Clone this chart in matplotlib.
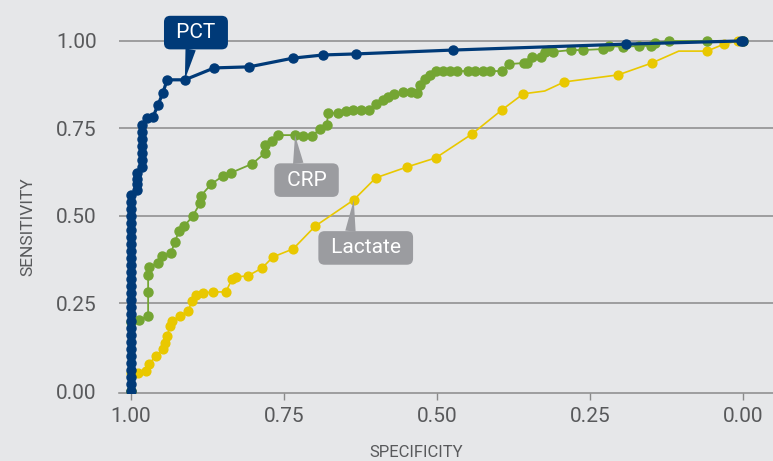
import matplotlib
matplotlib.use("Agg")
import matplotlib.pyplot as plt

# ROC data (specificity, sensitivity)
pct_spec = [1.000, 1.000, 1.000, 1.000, 1.000, 1.000, 1.000, 1.000, 1.000, 1.000,
            1.000, 1.000, 1.000, 1.000, 1.000, 1.000, 1.000, 1.000, 1.000, 1.000,
            1.000, 1.000, 1.000, 1.000, 1.000, 1.000, 1.000, 1.000, 1.000,
            0.990, 0.990, 0.990, 0.990,
            0.982, 0.982, 0.982, 0.982, 0.982, 0.982, 0.982,
            0.974, 0.964, 0.956, 0.948, 0.941, 0.912, 0.864, 0.807, 0.735,
            0.686, 0.632, 0.474, 0.191, 0.004, 0.000]
pct_sens = [0.000, 0.020, 0.040, 0.060, 0.080, 0.100, 0.120, 0.140, 0.160, 0.180,
            0.200, 0.220, 0.240, 0.260, 0.280, 0.300, 0.320, 0.340, 0.360, 0.380,
            0.400, 0.420, 0.440, 0.460, 0.480, 0.500, 0.520, 0.540, 0.560,
            0.574, 0.590, 0.606, 0.623,
            0.640, 0.660, 0.680, 0.700, 0.720, 0.740, 0.760,
            0.780, 0.783, 0.817, 0.851, 0.889, 0.889, 0.923, 0.926, 0.951,
            0.960, 0.963, 0.974, 0.991, 1.000, 1.000]

crp_spec = [1.000, 1.000, 0.987, 0.972, 0.972, 0.972, 0.971, 0.956, 0.949, 0.935,
            0.928, 0.922, 0.913, 0.899, 0.887, 0.886, 0.869, 0.850, 0.837, 0.802,
            0.781, 0.781, 0.770, 0.760, 0.732, 0.719, 0.704, 0.691, 0.680, 0.678,
            0.662, 0.649, 0.637, 0.624, 0.611, 0.600, 0.588, 0.580, 0.570, 0.556,
            0.542, 0.533, 0.528, 0.520, 0.511, 0.502, 0.490, 0.479, 0.467, 0.449,
            0.438, 0.425, 0.413, 0.394, 0.382, 0.358, 0.353, 0.345, 0.330, 0.324,
            0.317, 0.310, 0.281, 0.261, 0.229, 0.219, 0.196, 0.170, 0.150, 0.144,
            0.121, 0.059, 0.000]
crp_sens = [0.000, 0.197, 0.203, 0.214, 0.283, 0.331, 0.354, 0.366, 0.386, 0.394,
            0.426, 0.457, 0.471, 0.500, 0.537, 0.557, 0.591, 0.614, 0.623, 0.649,
            0.680, 0.703, 0.714, 0.731, 0.731, 0.729, 0.729, 0.749, 0.760, 0.794,
            0.794, 0.800, 0.803, 0.803, 0.803, 0.820, 0.831, 0.840, 0.849, 0.854,
            0.854, 0.851, 0.874, 0.891, 0.903, 0.914, 0.914, 0.914, 0.914, 0.914,
            0.914, 0.914, 0.914, 0.914, 0.934, 0.937, 0.937, 0.954, 0.954, 0.969,
            0.974, 0.969, 0.974, 0.974, 0.977, 0.986, 0.983, 0.986, 0.986, 0.994,
            1.000, 1.000, 1.000]

lac_spec = [1.000, 1.000, 0.989, 0.975, 0.971, 0.959, 0.948, 0.944, 0.941, 0.936,
            0.933, 0.920, 0.907, 0.900, 0.894, 0.882, 0.866, 0.845, 0.835, 0.828,
            0.809, 0.786, 0.768, 0.735, 0.699, 0.636, 0.600, 0.549, 0.502, 0.443,
            0.394, 0.359, 0.324, 0.292, 0.204, 0.149, 0.105, 0.059, 0.031, 0.008,
            0.000]
lac_sens = [0.000, 0.051, 0.051, 0.057, 0.077, 0.100, 0.120, 0.137, 0.157, 0.186,
            0.200, 0.214, 0.229, 0.257, 0.274, 0.280, 0.283, 0.283, 0.320, 0.326,
            0.329, 0.351, 0.383, 0.406, 0.471, 0.546, 0.609, 0.640, 0.666, 0.734,
            0.803, 0.849, 0.857, 0.883, 0.903, 0.937, 0.971, 0.971, 0.991, 1.000,
            1.000]
lac_no_marker = [32, 36]

labels = ["PCT", "CRP", "Lactate"]
label_idx = [45, 24, 25]

ticks = [1.00, 0.75, 0.50, 0.25, 0.00]
tick_labels = ["1.00", "0.75", "0.50", "0.25", "0.00"]

NAVY = "#003a78"
GREEN = "#74a533"
YELLOW = "#e9c800"
BOXGRAY = "#9b9ca0"
BG = "#e6e7e9"
GRID = "#8a8a8a"
TEXT = "#58595b"

plt.rcParams["font.family"] = ["Roboto", "DejaVu Sans"]

W, H = 773, 461
fig = plt.figure(figsize=(W / 100, H / 100), dpi=100, facecolor=BG)
ax = fig.add_axes([119 / W, 1 - 393 / H, 654 / W, 393 / H])
ax.set_facecolor(BG)

ax.set_xlim(1.0196, -0.049)
ax.set_ylim(-0.0057, 1.117)

for y in [0.25, 0.50, 0.75, 1.00]:
    ax.axhline(y, color=GRID, lw=1.1, zorder=1)

lac_marks = [i for i in range(len(lac_spec)) if i not in lac_no_marker]
ax.plot(lac_spec, lac_sens, color=YELLOW, lw=1.2, marker="o", ms=6.3,
        markevery=lac_marks, zorder=3)
ax.plot(crp_spec, crp_sens, color=GREEN, lw=1.3, marker="o", ms=6.5, zorder=4)
ax.plot(pct_spec, pct_sens, color=NAVY, lw=2.3, marker="o", ms=6.5, zorder=5)

for s in ["top", "right", "left"]:
    ax.spines[s].set_visible(False)
ax.spines["bottom"].set_color(GRID)
ax.spines["bottom"].set_linewidth(1.1)

ax.set_xticks(ticks)
ax.set_xticklabels(tick_labels)
ax.set_yticks(ticks)
ax.set_yticklabels(tick_labels)
ax.tick_params(axis="x", length=5, width=1, color=GRID, pad=5,
               labelsize=15, labelcolor=TEXT)
ax.tick_params(axis="y", length=0, pad=16, labelsize=15, labelcolor=TEXT)

fig.text(28 / W, 1 - 227 / H, "SENSITIVITY", rotation=90, ha="center",
         va="center", fontsize=12.5, color=TEXT)
fig.text(416 / W, 1 - 445 / H, "SPECIFICITY", ha="center", va="top",
         fontsize=12, color=TEXT)

# callout labels
series = [(pct_spec, pct_sens), (crp_spec, crp_sens), (lac_spec, lac_sens)]
box_colors = [NAVY, BOXGRAY, BOXGRAY]
offsets = [(8, 34), (8.3, -32.4), (8.6, -34.6)]
rel = [(0.42, 0.0), (0.35, 1.0), (0.3, 1.0)]
for lab, (xs, ys), i, c, off, rp in zip(labels, series, label_idx, box_colors,
                                       offsets, rel):
    ax.annotate(" " + lab + " ", xy=(xs[i], ys[i]), xytext=off,
                textcoords="offset points", ha="center", va="center",
                fontsize=15, color="white", zorder=10,
                bbox=dict(boxstyle="round,pad=0.35,rounding_size=0.3",
                          fc=c, ec="none"),
                arrowprops=dict(arrowstyle="wedge,tail_width=0.5", fc=c,
                                ec="none", shrinkA=0, shrinkB=0, relpos=rp))

fig.savefig("out.png", dpi=100, facecolor=BG)
